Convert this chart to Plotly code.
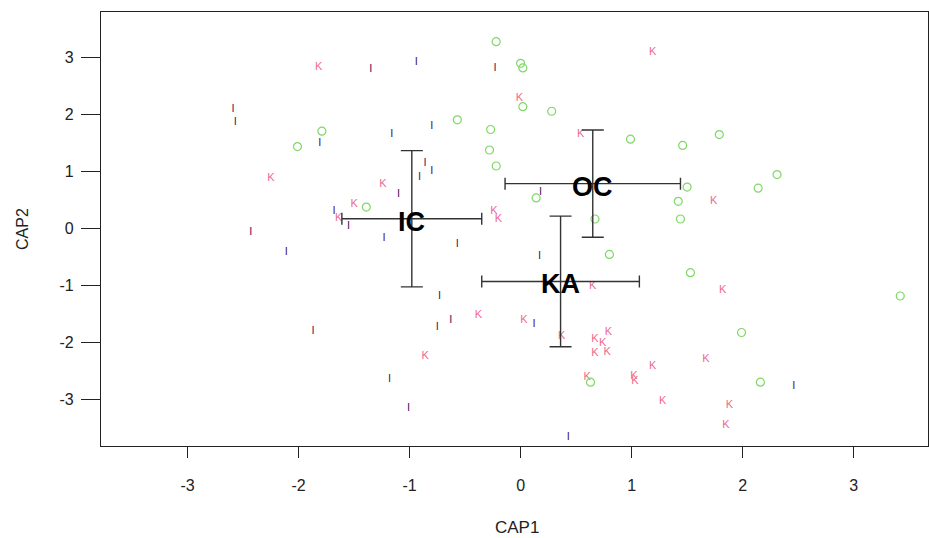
import plotly.graph_objects as go

# ---- data ----
i_x = [-1.35, -2.59, -2.57, -1.81, -1.16, -1.10, -1.68, -1.55, -2.43, -1.23, -2.11, -1.87, -1.18, -1.01,
       -0.94, -0.23, -0.80, -0.86, -0.80, -0.91, 0.18, -0.57, 0.17, -0.73, -0.63, -0.75, 0.12, 0.43, 2.46]
i_y = [2.78, 2.09, 1.85, 1.49, 1.64, 0.60, 0.30, 0.04, -0.08, -0.17, -0.43, -1.80, -2.65, -3.15,
       2.91, 2.80, 1.79, 1.13, 1.00, 0.89, 0.63, -0.29, -0.50, -1.19, -1.61, -1.74, -1.68, -3.67, -2.78]

k_x = [-1.82, -2.25, -1.24, -1.50, -1.64, 1.19, -0.01, 0.54, 1.74, -0.24, -0.20, 0.65, -0.38, 0.03, 0.37,
       0.79, 0.67, 0.74, 0.67, 0.78, -0.86, 1.67, 1.19, 0.60, 1.02, 1.03, 1.28, 1.82, 1.88, 1.85]
k_y = [2.82, 0.87, 0.77, 0.42, 0.18, 3.09, 2.28, 1.64, 0.48, 0.30, 0.16, -1.01, -1.53, -1.61, -1.89,
       -1.83, -1.95, -2.01, -2.19, -2.17, -2.25, -2.30, -2.43, -2.61, -2.59, -2.69, -3.03, -1.09, -3.11, -3.45]

o_x = [-1.79, -2.01, -1.39, -0.22, 0.00, 0.02, 0.02, 0.28, -0.57, -0.27, 0.99, 1.46, 1.79, -0.28,
       -0.22, 0.14, 1.50, 1.42, 0.67, 1.44, 2.31, 2.14, 0.80, 1.53, 0.63, 3.42, 1.99, 2.16]
o_y = [1.70, 1.43, 0.37, 3.27, 2.89, 2.81, 2.13, 2.05, 1.90, 1.73, 1.56, 1.45, 1.64, 1.37,
       1.09, 0.53, 0.72, 0.47, 0.16, 0.16, 0.94, 0.70, -0.46, -0.78, -2.70, -1.19, -1.83, -2.70]

groups = ["IC", "OC", "KA"]
cent_x = [-0.98, 0.65, 0.36]
cent_y = [0.165, 0.78, -0.935]
sd_x = [0.63, 0.79, 0.71]
sd_y = [1.195, 0.94, 1.145]

x_ticks = [-3, -2, -1, 0, 1, 2, 3]
y_ticks = [-3, -2, -1, 0, 1, 2, 3]

FONT = "Liberation Sans, Arial, sans-serif"

fig = go.Figure()

fig.add_trace(go.Scatter(
    x=i_x, y=i_y, mode="text", text=["I"] * len(i_x), textposition="middle center",
    textfont=dict(family=FONT, size=11, color="#4a1558"), hoverinfo="skip", showlegend=False))

fig.add_trace(go.Scatter(
    x=k_x, y=k_y, mode="text", text=["K"] * len(k_x), textposition="middle center",
    textfont=dict(family=FONT, size=11, color="#ee6a90"), hoverinfo="skip", showlegend=False))

fig.add_trace(go.Scatter(
    x=o_x, y=o_y, mode="markers",
    marker=dict(symbol="circle-open", size=8, color="#7fd866", line=dict(width=1.2, color="#7fd866")),
    hoverinfo="skip", showlegend=False))

fig.add_trace(go.Scatter(
    x=cent_x, y=cent_y, mode="markers",
    marker=dict(size=1, color="rgba(0,0,0,0)"),
    error_x=dict(type="data", array=sd_x, visible=True, color="#333333", thickness=1.4, width=6),
    error_y=dict(type="data", array=sd_y, visible=True, color="#333333", thickness=1.4, width=11),
    hoverinfo="skip", showlegend=False))

label_annotations = [
    dict(text="<b>%s</b>" % g, x=cx, y=cy, xref="x", yref="y", showarrow=False,
         xanchor="center", yanchor="middle", yshift=-3,
         font=dict(family=FONT, size=27, color="#000000"))
    for g, cx, cy in zip(groups, cent_x, cent_y)
]

axis_common = dict(
    showgrid=False, zeroline=False, showline=True, mirror=True,
    linecolor="#222222", linewidth=1.3, ticks="outside", tickcolor="#222222", tickwidth=1.2,
    tickfont=dict(family=FONT, size=16, color="#222222"),
)

fig.update_layout(
    width=929, height=538,
    margin=dict(l=101, r=1, t=12, b=92),
    paper_bgcolor="white", plot_bgcolor="white",
    xaxis=dict(range=[-3.78, 3.67], tickvals=x_ticks, ticktext=[str(v) for v in x_ticks],
               ticklen=11, ticklabelstandoff=14, **axis_common),
    yaxis=dict(range=[-3.82, 3.79], tickvals=y_ticks, ticktext=[str(v) for v in y_ticks],
               ticklen=19, ticklabelstandoff=4, **axis_common),
    annotations=label_annotations + [
        dict(text="CAP1", xref="paper", yref="paper", x=0.503, y=(446 - 527) / 434,
             xanchor="center", yanchor="middle", showarrow=False,
             font=dict(family=FONT, size=17, color="#222222")),
        dict(text="CAP2", xref="paper", yref="paper", x=(22 - 101) / 827, y=0.5,
             xanchor="center", yanchor="middle", showarrow=False, textangle=-90,
             font=dict(family=FONT, size=16, color="#222222")),
    ],
)

fig.write_html("out.html", config={"displayModeBar": False},
               post_script="document.body.style.margin='0';document.body.style.overflow='hidden';")
